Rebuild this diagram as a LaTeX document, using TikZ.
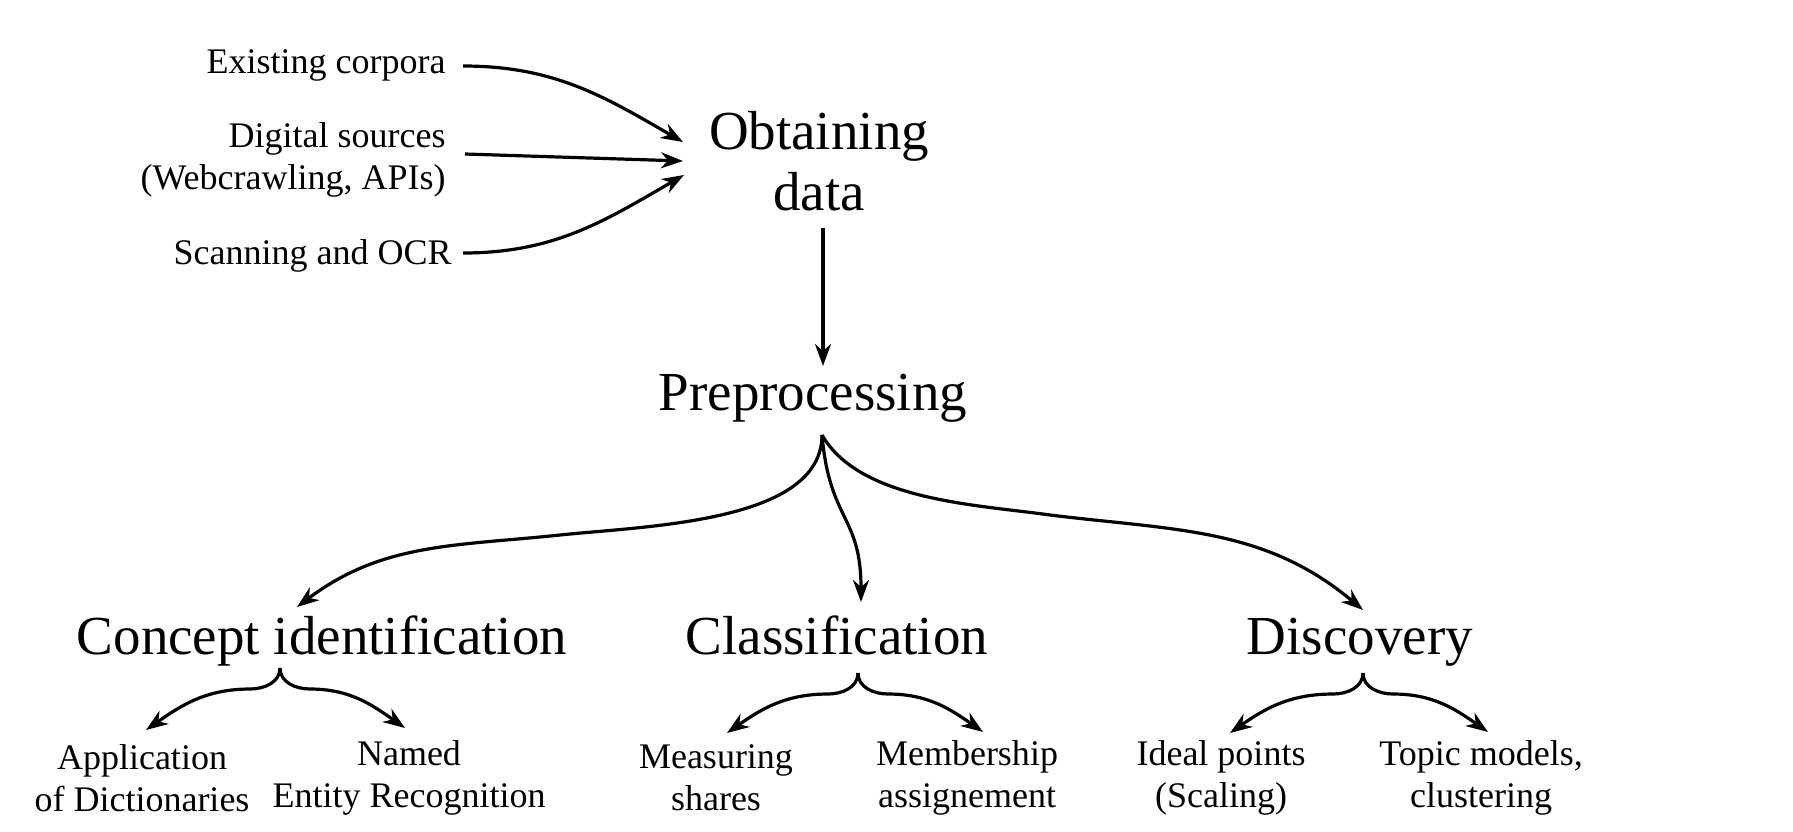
\documentclass[tikz,border=0pt]{standalone}
\usepackage{fontspec}
\setmainfont{Liberation Serif}
\usetikzlibrary{arrows.meta,calc}
\begin{document}
\begin{tikzpicture}[x=0.5pt,y=0.5pt,
  big/.style={font=\fontsize{27.5}{30.5}\selectfont, inner sep=0pt},
  small/.style={font=\fontsize{18}{21}\selectfont, inner sep=0pt},
  arr/.style={line width=1.6pt, -{Stealth[length=11pt,width=8pt,inset=3.5pt]}}]
\useasboundingbox (0,0) rectangle (1793,-831);
% source nodes
\node[small, align=right, anchor=east] (ec) at (446,-65) {Existing corpora};
\node[small, align=right, anchor=east] (ds) at (446,-160) {Digital sources\\(Webcrawling, APIs)};
\node[small, align=right, anchor=east] (sc) at (452,-256) {Scanning and OCR};
% main stages
\node[big, align=center] (od) at (819,-161) {Obtaining\\data};
\node[big, anchor=base] (pre) at (813,-410) {Preprocessing};
\node[big, anchor=base] (ci) at (322,-654) {Concept identification};
\node[big, anchor=base] (cl) at (837,-654) {Classification};
\node[big, anchor=base] (di) at (1360,-654) {Discovery};
% leaves
\node[small, align=center] (app) at (142,-778) {Application\\of Dictionaries};
\node[small, align=center] (ner) at (409,-778) {Named\\Entity Recognition};
\node[small, align=center] (meas) at (716,-778) {Measuring\\shares};
\node[small, align=center] (memb) at (967,-778) {Membership\\assignement};
\node[small, align=center] (ideal) at (1221,-778) {Ideal points\\(Scaling)};
\node[small, align=center] (topic) at (1481,-778) {Topic models,\\clustering};
% connectors: sources -> obtaining data
\draw[arr] ($(ec.east)+(17,-1)$) to[out=0,in=150] ($(od)+(-136,19)$);
\draw[arr] ($(ds.east)+(19,6)$) -- ($(od)+(-136,0)$);
\draw[arr] ($(sc.east)+(11,3)$) to[out=0,in=210] ($(od)+(-135,-14)$);
% obtaining -> preprocessing
\draw[arr] ($(od)+(4,-67)$) -- ($(pre.base)+(10,44)$);
% preprocessing -> three branches
\draw[arr] ($(pre.base)+(9,-25)$) to[out=-90,in=6,looseness=0.8] ++(-262,-100)
  to[out=186,in=37] ($(ci.base)+(-25,47)$);
\draw[arr] ($(pre.base)+(9,-25)$) to[out=-85,in=90,looseness=1.3] ($(cl.base)+(24,52)$);
\draw[arr] ($(pre.base)+(9,-25)$) to[out=-60,in=172,looseness=0.8] ++(228,-80)
  to[out=-7,in=140] ($(di.base)+(3,44)$);
% braces to leaves
\draw[arr] ($(ci.base)+(-42,-14)$) to[out=-90,in=0] ++(-30,-21) to[out=180,in=35] ($(app)+(4,48)$);
\draw[arr] ($(ci.base)+(-42,-14)$) to[out=-90,in=180] ++(30,-21) to[out=0,in=145] ($(ner)+(-4,50)$);
\draw[arr] ($(cl.base)+(21,-19)$) to[out=-90,in=0] ++(-30,-21) to[out=180,in=35] ($(meas)+(11,45)$);
\draw[arr] ($(cl.base)+(21,-19)$) to[out=-90,in=180] ++(30,-21) to[out=0,in=145] ($(memb)+(16,46)$);
\draw[arr] ($(di.base)+(3,-19)$) to[out=-90,in=0] ++(-30,-21) to[out=180,in=35] ($(ideal)+(9,45)$);
\draw[arr] ($(di.base)+(3,-19)$) to[out=-90,in=180] ++(30,-21) to[out=0,in=145] ($(topic)+(7,46)$);
\end{tikzpicture}
\end{document}
